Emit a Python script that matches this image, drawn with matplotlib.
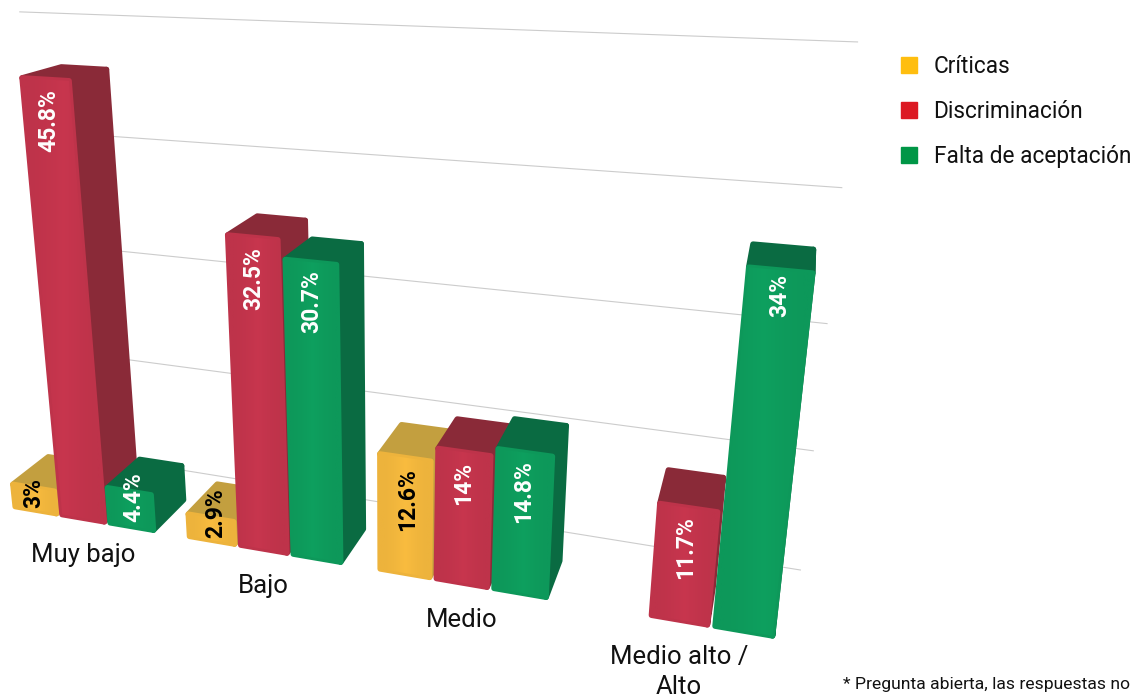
"""Столбчатая диаграмма с перспективой: критика, дискриминация, неприятие."""

import numpy as np
import matplotlib
matplotlib.use("Agg")
import matplotlib.colors as mcolors
import matplotlib.pyplot as plt
from matplotlib.lines import Line2D
from matplotlib.patches import Polygon

plt.rcParams["font.family"] = ["Roboto", "DejaVu Sans"]

categories = ["Muy bajo", "Bajo", "Medio", "Medio alto /\nAlto"]
series = ["Críticas", "Discriminación", "Falta de aceptación"]
criticas = [3, 2.9, 12.6, None]
discriminacion = [45.8, 32.5, 14, 11.7]
aceptacion = [4.4, 30.7, 14.8, 34]
grid_values = [10, 20, 30, 40, 50]
note = "* Pregunta abierta, las respuestas no"

# где подпись стоит на столбце: высота в единицах оси и доля ширины
label_at = [[2.2, 3.3, 8.1, None], [41.8, 28.4, 10.6, 7.6], [3.6, 26.7, 10.7, 31.7]]
label_across = [[0.5, 0.6, 0.55, None], [0.5, 0.5, 0.5, 0.5], [0.58, 0.5, 0.5, 0.53]]
label_colors = ["black", "white", "white"]

front_colors = ["#EDB33C", "#BE334A", "#0D985A"]
shade_colors = ["#C39F3F", "#8A2A38", "#0A6B42"]
legend_colors = ["#FFBE0F", "#DC1923", "#009646"]

# камера: (позиция, значение, глубина, 1) -> пиксели
PROJECTION = np.array([
    [4.6129214e+01, -9.2275288e-01, 3.8482418e+01, 1.3528672e+01],
    [1.8908780e+00, -9.6785686e+00, -6.8579494e+00, 5.0793839e+02],
    [-1.1880718e-02, -2.3663196e-03, 4.6635959e-02, 1.0000000e+00],
])
GRID_PROJECTION = np.array([
    [5.8544064e+02, -1.0092047e+00, 6.7744518e+01],
    [1.9113061e+01, -1.0712655e+01, 5.4600233e+02],
    [-1.7135972e-01, -2.5158133e-03, 1.0000000e+00],
])
GROUP_STEP = 3.6
BAR_WIDTH = 0.96
INSET_X = 0.04
INSET_V = 0.2
INSET_D = 0.03
FRONT_SHADE = [1.0, 1.02, 1.05, 1.02, 1.0]


def project(x, value, depth=0.0):
    q = PROJECTION @ np.array(np.broadcast_arrays(x, value, depth, 1.0), float)
    return q[0] / q[2], q[1] / q[2]


def project_grid(u, value):
    q = GRID_PROJECTION @ np.array([u, value, 1.0])
    return q[0] / q[2], q[1] / q[2]


def add_face(ax, x, value, depth, color, zorder):
    px, py = project(np.array(x), np.array(value), np.array(depth))
    patch = Polygon(np.c_[px, py], closed=True, facecolor=color, edgecolor=color,
                    linewidth=4, joinstyle="round", zorder=zorder)
    ax.add_patch(patch)
    return patch, px, py


def add_front_gradient(ax, patch, px, py, color, zorder):
    base = np.array(mcolors.to_rgb(color))
    ramp = np.clip(np.outer(FRONT_SHADE, base), 0, 1)[None, :, :]
    image = ax.imshow(ramp, extent=(px.min(), px.max(), py.max(), py.min()), aspect="auto",
                      interpolation="bilinear", zorder=zorder)
    image.set_clip_path(patch)


def draw_bar(ax, x0, v, s, zorder):
    xa, xb = x0 + INSET_X, x0 + BAR_WIDTH - INSET_X
    lo, hi = INSET_V, v - INSET_V
    back = 1 - INSET_D
    add_face(ax, [xb, xb, xb, xb], [lo, lo, hi, hi], [0, back, back, 0], shade_colors[s], zorder)
    add_face(ax, [xa, xb, xb, xa], [hi, hi, hi, hi], [0, 0, back, back], shade_colors[s], zorder)
    patch, px, py = add_face(ax, [xa, xb, xb, xa], [lo, lo, hi, hi], [0, 0, 0, 0],
                             front_colors[s], zorder)
    add_front_gradient(ax, patch, px, py, front_colors[s], zorder)


def main():
    fig = plt.figure(figsize=(11.34, 6.98), dpi=100)
    ax = fig.add_axes([0, 0, 1, 1])

    for value in grid_values:
        a = project_grid(0, value)
        b = project_grid(1, value)
        ax.plot([a[0], b[0]], [a[1], b[1]], color="#CCCCCC", linewidth=0.8, zorder=1)

    zorder = 2
    for g in range(len(categories)):
        for s, values in enumerate([criticas, discriminacion, aceptacion]):
            v = values[g]
            if v is None:
                continue
            x0 = g * GROUP_STEP + s
            draw_bar(ax, x0, v, s, zorder)
            zorder += 1
            tx, ty = project(x0 + BAR_WIDTH * label_across[s][g], label_at[s][g])
            ax.text(tx, ty, f"{v}%", rotation=90, ha="center", va="center",
                    color=label_colors[s], fontsize=16.5, fontweight="bold", zorder=30)

    for g, name in enumerate(categories):
        cx, cy = project(g * GROUP_STEP + 1 + BAR_WIDTH / 2, 0)
        ax.annotate(name, (cx, cy), xytext=(0, -16.5), textcoords="offset points", ha="center",
                    va="top", fontsize=18.5, color="#111111", linespacing=1.35)

    handles = [Line2D([], [], linestyle="none", marker="s", markersize=11.5, color=c, label=n)
               for c, n in zip(legend_colors, series)]
    ax.legend(handles=handles, loc="upper left", bbox_to_anchor=(898 / 1134, 1 - 55 / 698),
              frameon=False, fontsize=16.3, labelspacing=0.98, handletextpad=0.57,
              handlelength=1.0, borderpad=0, borderaxespad=0, labelcolor="#111111")
    ax.text(843, 684, note, ha="left", va="center", fontsize=12.6, color="#111111")

    ax.set_xlim(0, 1134)
    ax.set_ylim(698, 0)
    ax.axis("off")
    fig.savefig("out.png", dpi=100)


if __name__ == "__main__":
    main()
